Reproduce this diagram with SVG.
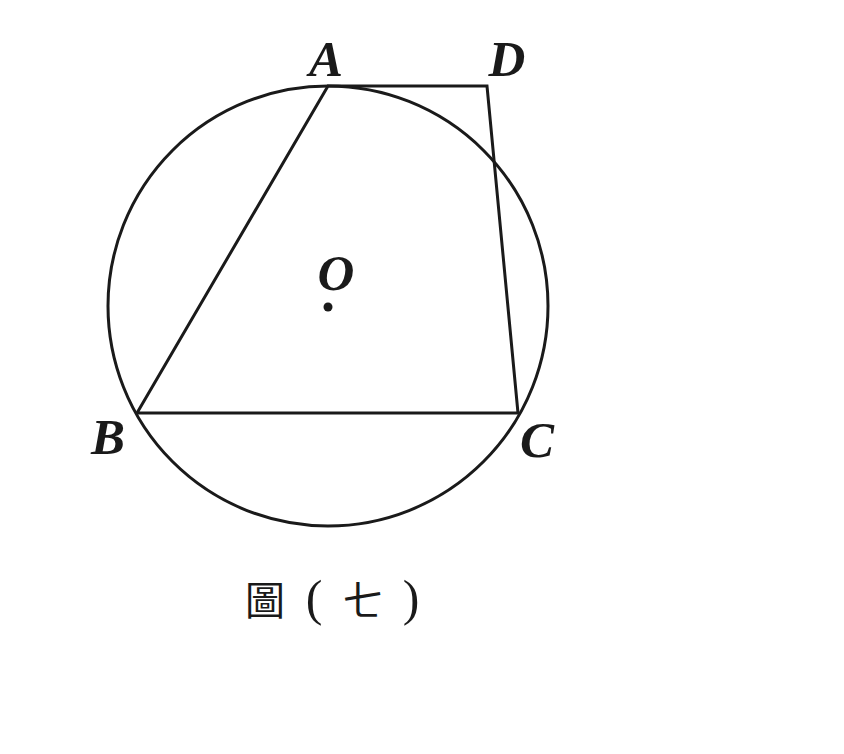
<svg xmlns="http://www.w3.org/2000/svg" width="844" height="754" viewBox="0 0 844 754">
<style>
.ln{fill:none;stroke:#1a1a1a;stroke-width:3;stroke-linejoin:miter}
.lb{font-family:"Liberation Serif","Times New Roman",serif;font-weight:bold;font-style:italic;font-size:51px;fill:#1a1a1a}
.cap{font-family:"Noto Sans CJK TC","Liberation Serif",serif;font-size:40px;fill:#1a1a1a}
.par{font-family:"Liberation Serif",serif;font-size:50px;fill:#1a1a1a}
</style>
<rect width="844" height="754" fill="#fff"/>
<g id="circle"><circle class="ln" cx="328" cy="306" r="220"/></g>
<g id="connectors">
<polyline class="ln" points="137,413 328,86 487,86 518,413 137,413"/>
</g>
<g id="O"><circle cx="328" cy="307" r="4.5" fill="#1a1a1a"/><text class="lb" x="336" y="290" text-anchor="middle">O</text></g>
<g id="A"><text class="lb" x="326" y="76" text-anchor="middle">A</text></g>
<g id="D"><text class="lb" x="507" y="76" text-anchor="middle">D</text></g>
<g id="B"><text class="lb" x="108" y="454" text-anchor="middle">B</text></g>
<g id="C"><text class="lb" x="537" y="457" text-anchor="middle">C</text></g>
<g id="caption">
<text class="cap" x="265" y="615" text-anchor="middle">圖</text>
<text class="par" x="314" y="615" text-anchor="middle">(</text>
<text class="cap" x="363" y="615" text-anchor="middle">七</text>
<text class="par" x="411" y="615" text-anchor="middle">)</text>
</g>
</svg>
